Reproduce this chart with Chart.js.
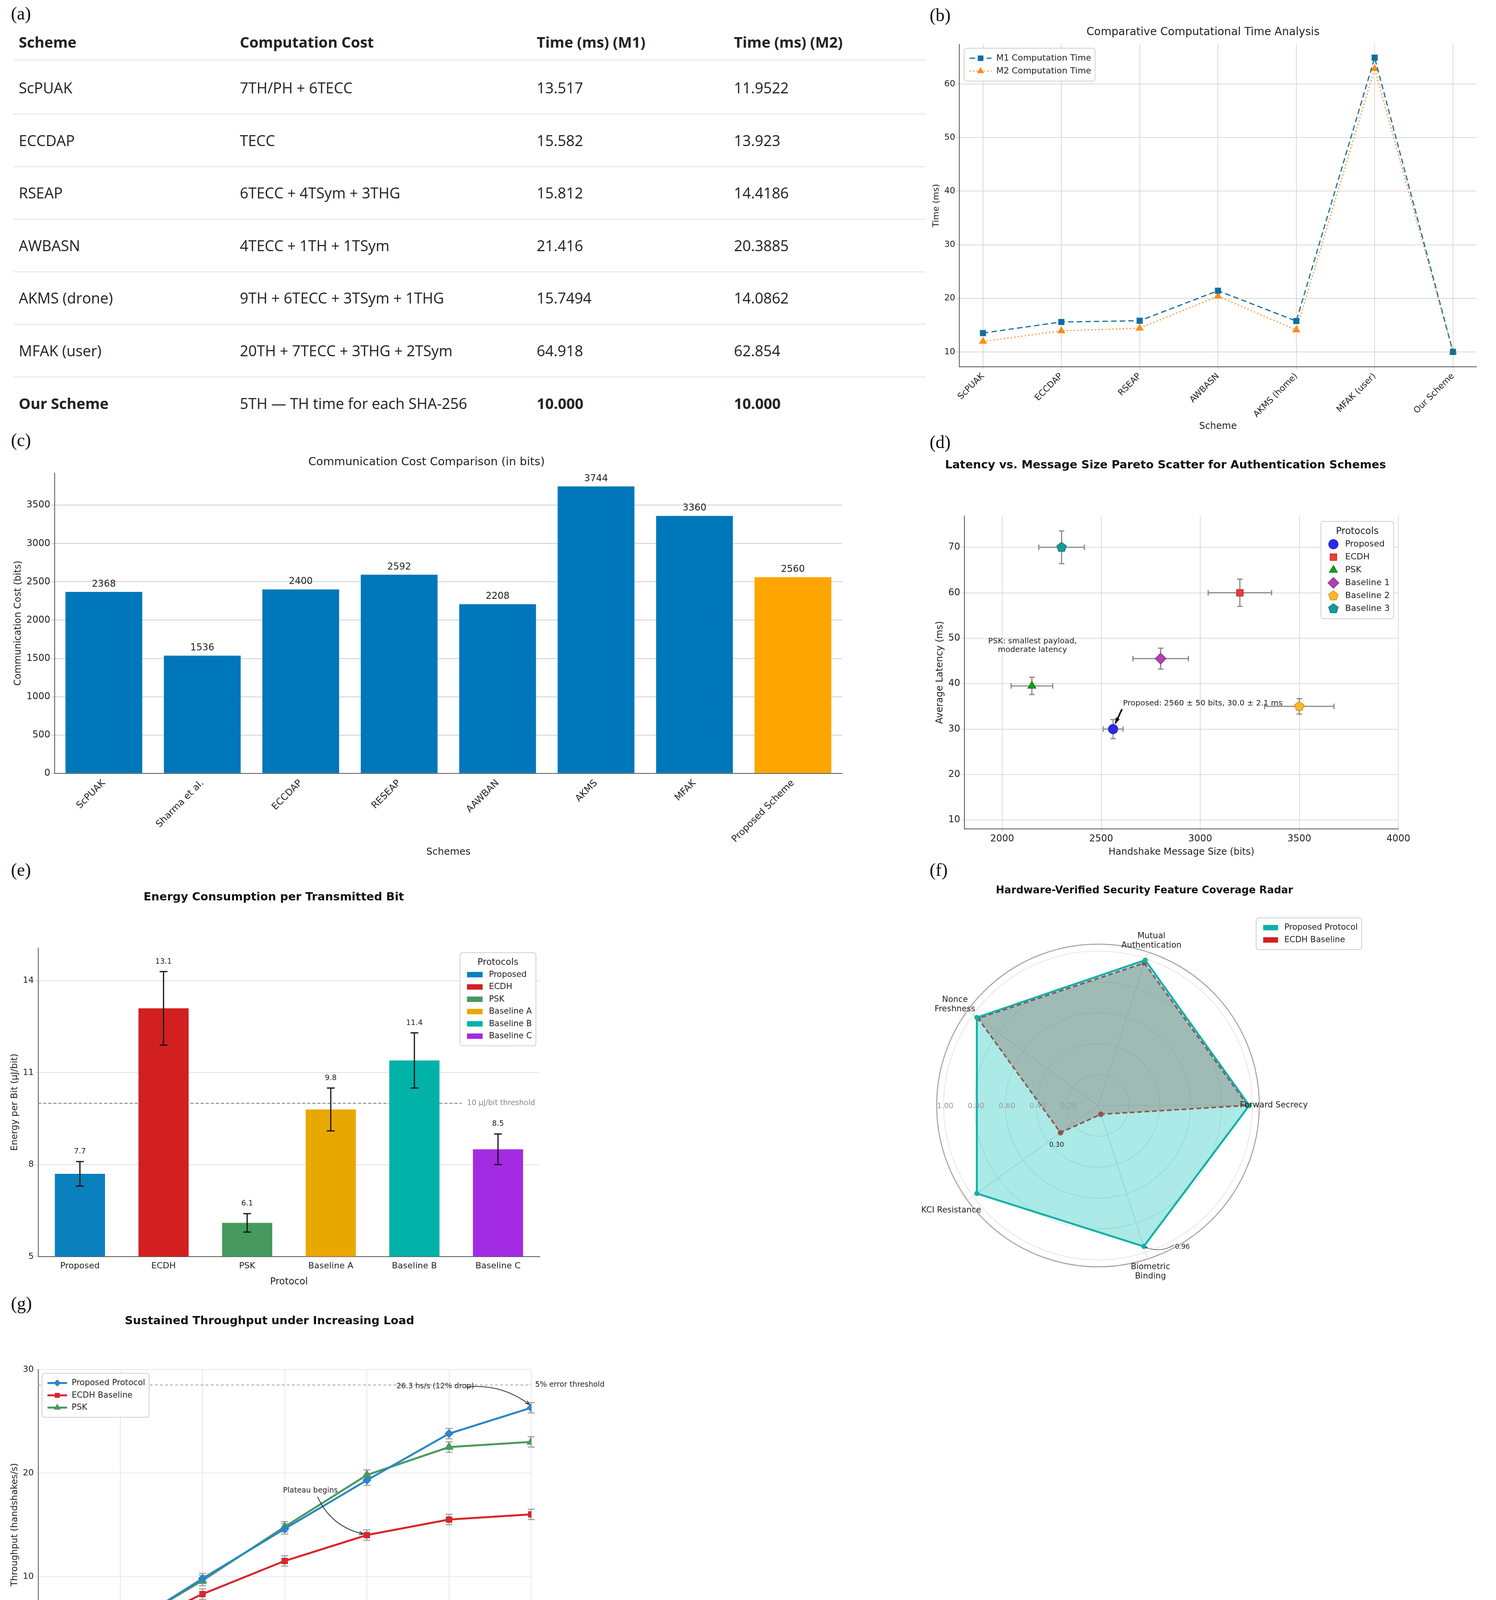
<!DOCTYPE html>
<html><head><meta charset="utf-8">
<script src="https://cdn.jsdelivr.net/npm/chart.js@4.4.0/dist/chart.umd.min.js"></script>
<style>
body{margin:0;width:3830px;height:4386px;background:#fff;position:relative;overflow:hidden;font-family:"DejaVu Sans"}
.p{position:absolute}
.lbl{position:absolute;font-family:"Liberation Serif";font-size:46px;color:#111}
.cell{position:absolute;font-family:"Open Sans";font-size:38px;color:#222;white-space:nowrap;transform:translateY(-50%)}
.hl{position:absolute;height:2px;background:#e2e2e2}
</style></head><body>
<div class="lbl" style="left:28px;top:8px">(a)</div>
<div class="lbl" style="left:2380px;top:12px">(b)</div>
<div class="lbl" style="left:28px;top:1100px">(c)</div>
<div class="lbl" style="left:2380px;top:1105px">(d)</div>
<div class="lbl" style="left:28px;top:2200px">(e)</div>
<div class="lbl" style="left:2380px;top:2200px">(f)</div>
<div class="lbl" style="left:28px;top:3310px">(g)</div>
<div id="tbl"></div>
<div class="p" style="left:2380px;top:60px;width:1440px;height:1050px"><canvas id="cb"></canvas></div>
<div class="p" style="left:28px;top:1150px;width:2142px;height:1050px"><canvas id="cc"></canvas></div>
<div class="p" style="left:2380px;top:1160px;width:1440px;height:1040px"><canvas id="cd"></canvas></div>
<div class="p" style="left:0px;top:2250px;width:1400px;height:1050px"><canvas id="ce"></canvas></div>
<div class="p" style="left:2300px;top:2230px;width:1200px;height:1100px"><canvas id="cf"></canvas></div>
<div class="p" style="left:0px;top:3335px;width:1600px;height:1051px"><canvas id="cg"></canvas></div>
<script>
// ---------- DATA ----------
const tableHeader = ['Scheme','Computation Cost','Time (ms) (M1)','Time (ms) (M2)'];
const tableSchemes = ['ScPUAK','ECCDAP','RSEAP','AWBASN','AKMS (drone)','MFAK (user)','Our Scheme'];
const tableCosts = ['7TH/PH + 6TECC','TECC','6TECC + 4TSym + 3THG','4TECC + 1TH + 1TSym','9TH + 6TECC + 3TSym + 1THG','20TH + 7TECC + 3THG + 2TSym','5TH — TH time for each SHA-256'];
const tableM1 = ['13.517','15.582','15.812','21.416','15.7494','64.918','10.000'];
const tableM2 = ['11.9522','13.923','14.4186','20.3885','14.0862','62.854','10.000'];

const schemesB = ['ScPUAK','ECCDAP','RSEAP','AWBASN','AKMS (home)','MFAK (user)','Our Scheme'];
const m1Time = [13.517,15.582,15.812,21.416,15.7494,64.918,10.0];
const m2Time = [11.9522,13.923,14.4186,20.3885,14.0862,62.854,10.0];
const ticksBY = [10,20,30,40,50,60];

const commSchemes = ['ScPUAK','Sharma et al.','ECCDAP','RESEAP','AAWBAN','AKMS','MFAK','Proposed Scheme'];
const commBits = [2368,1536,2400,2592,2208,3744,3360,2560];
const ticksCY = [0,500,1000,1500,2000,2500,3000,3500];

const protoNames = ['Proposed','ECDH','PSK','Baseline 1','Baseline 2','Baseline 3'];
const msgSize = [2560,3200,2150,2800,3500,2300];
const latency = [30,60,39.5,45.5,35,70];
const msgSizeErr = [50,160,105,140,175,115];
const latencyErr = [2.1,3,1.9,2.3,1.7,3.6];
const ticksDX = [2000,2500,3000,3500,4000];
const ticksDY = [10,20,30,40,50,60,70];

const energyLabels = ['Proposed','ECDH','PSK','Baseline A','Baseline B','Baseline C'];
const energyVals = [7.7,13.1,6.1,9.8,11.4,8.5];
const energyErr = [0.4,1.2,0.3,0.7,0.9,0.5];
const energyTicks = [5,8,11,14];
const energyThreshold = 10;

const radarAxes = ['Mutual Authentication','Forward Secrecy','Biometric Binding','KCI Resistance','Nonce Freshness'];
const radarProposed = [0.99,0.98,0.96,0.97,0.97];
const radarECDH = [0.97,0.97,0.06,0.30,0.96];
const radarTicks = [0.2,0.4,0.6,0.8,1.0];

const loads = [1,5,10,15,20,25,30];
const thrProposed = [1.0,4.8,9.8,14.6,19.3,23.8,26.3];
const thrECDH = [0.9,4.5,8.3,11.5,14.0,15.5,16.0];
const thrPSK = [1.0,4.9,9.6,14.8,19.8,22.5,23.0];
const thrErr = [0.5,0.5,0.5,0.5,0.5,0.5,0.5];
const ticksGX = [0,5,10,15,20,25,30];
const ticksGY = [0,10,20,30];
const errorThreshold = 28.5;

// ---------- TABLE ----------
(function(){
  const t=document.getElementById('tbl');
  const xs=[48,614,1374,1879], y0=107, dy=134.6;
  const add=(x,y,txt,bold)=>{const d=document.createElement('div');d.className='cell';d.style.left=x+'px';d.style.top=y+'px';d.textContent=txt;if(bold)d.style.fontWeight='700';t.appendChild(d);};
  tableHeader.forEach((h,i)=>add(xs[i],y0,h,true));
  const hl=(y)=>{const d=document.createElement('div');d.className='hl';d.style.left='34px';d.style.width='2336px';d.style.top=y+'px';t.appendChild(d);};
  hl(153);
  tableSchemes.forEach((s,r)=>{
    const y=224+r*dy; const last=r===tableSchemes.length-1;
    add(xs[0],y,s,last);add(xs[1],y,tableCosts[r],false);add(xs[2],y,tableM1[r],last);add(xs[3],y,tableM2[r],last);
    if(!last)hl(y+67);
  });
})();

// ---------- HELPERS ----------
Chart.defaults.font.family='"DejaVu Sans"';
Chart.defaults.color='#222';
Chart.defaults.animation=false;
Chart.defaults.devicePixelRatio=1;
Chart.defaults.plugins.legend.display=false;
Chart.defaults.plugins.tooltip.enabled=false;

const fixTicks=(arr)=>(s)=>{s.ticks=arr.map(v=>({value:v}));};
const plain=(v)=>String(v);

function polyImg(n,r,fill,stroke,rot){const c=document.createElement('canvas');c.width=c.height=2*r+4;const g=c.getContext('2d');g.beginPath();for(let k=0;k<n;k++){const a=rot+k*2*Math.PI/n;const px=r+2+r*Math.cos(a),py=r+2+r*Math.sin(a);k?g.lineTo(px,py):g.moveTo(px,py);}g.closePath();g.fillStyle=fill;g.fill();g.strokeStyle=stroke;g.lineWidth=1.5;g.stroke();return c;}

function drawMarker(ctx,style,r,x,y,fill,stroke){
  ctx.save();ctx.fillStyle=fill;ctx.strokeStyle=stroke;ctx.lineWidth=1.5;
  if(Chart.helpers&&Chart.helpers.drawPoint){Chart.helpers.drawPoint(ctx,{pointStyle:style,radius:r,rotation:0,borderWidth:1.5},x,y);}
  else{ctx.fillRect(x-r,y-r,2*r,2*r);}
  ctx.restore();
}
function arrowTo(ctx,x1,y1,x2,y2,bend,head,filled){
  const mx=(x1+x2)/2,my=(y1+y2)/2,dx=x2-x1,dy=y2-y1;const cx=mx-dy*bend,cy=my+dx*bend;
  ctx.beginPath();ctx.moveTo(x1,y1);ctx.quadraticCurveTo(cx,cy,x2,y2);ctx.stroke();
  const a=Math.atan2(y2-cy,x2-cx);
  ctx.beginPath();ctx.moveTo(x2,y2);ctx.lineTo(x2-head*Math.cos(a-0.35),y2-head*Math.sin(a-0.35));
  if(filled){ctx.lineTo(x2-head*Math.cos(a+0.35),y2-head*Math.sin(a+0.35));ctx.closePath();ctx.fill();}
  else{ctx.moveTo(x2,y2);ctx.lineTo(x2-head*Math.cos(a+0.35),y2-head*Math.sin(a+0.35));ctx.stroke();}
}

const errPlugin={id:'errbars',
  beforeDatasetsDraw(chart){this.draw(chart,false);},
  afterDatasetsDraw(chart){this.draw(chart,true);},
  draw(chart,front){
    const ctx=chart.ctx;
    chart.data.datasets.forEach((ds,di)=>{
      if(!ds.errY&&!ds.errX)return; if(!!ds.errFront!==front)return;
      const meta=chart.getDatasetMeta(di);const ys=chart.scales[meta.yAxisID],xs=chart.scales[meta.xAxisID];
      ctx.save();ctx.strokeStyle=ds.errColor||'#000';ctx.lineWidth=ds.errWidth||2.5;const cap=ds.capSize||9;
      const L=(a,b,c,d)=>{ctx.beginPath();ctx.moveTo(a,b);ctx.lineTo(c,d);ctx.stroke();};
      meta.data.forEach((el,i)=>{
        const d=ds.data[i];const yv=typeof d==='object'?d.y:d;const xv=typeof d==='object'?d.x:null;
        if(ds.errY){const e=ds.errY[i];const y1=ys.getPixelForValue(yv-e),y2=ys.getPixelForValue(yv+e);L(el.x,y1,el.x,y2);L(el.x-cap,y1,el.x+cap,y1);L(el.x-cap,y2,el.x+cap,y2);}
        if(ds.errX){const e=ds.errX[i];const x1=xs.getPixelForValue(xv-e),x2=xs.getPixelForValue(xv+e);L(x1,el.y,x2,el.y);L(x1,el.y-cap,x1,el.y+cap);L(x2,el.y-cap,x2,el.y+cap);}
      });
      ctx.restore();
    });
  }};

const legendPlugin={id:'lg',afterDraw(chart,args,o){
  if(!o||!o.mode)return;const ctx=chart.ctx;const fs=o.size||22;const lh=fs*1.5;
  let items;
  if(o.mode==='bars'){const ds=chart.data.datasets[0];items=chart.data.labels.map((l,i)=>({text:l,color:ds.backgroundColor[i]}));}
  else items=chart.data.datasets.map(d=>({text:d.label,color:d.borderColor,fill:d.pointBackgroundColor||d.backgroundColor,ps:d.pointStyle,dash:d.borderDash||[],r:d.pointRadius||8,bw:d.borderWidth}));
  ctx.save();ctx.font=fs+'px "DejaVu Sans"';
  let w=0;items.forEach(it=>w=Math.max(w,ctx.measureText(it.text).width));
  const sym=o.symW||50;let bw=w+sym+36;
  if(o.title){ctx.font=(fs+2)+'px "DejaVu Sans"';bw=Math.max(bw,ctx.measureText(o.title).width+30);}
  const bh=items.length*lh+(o.title?lh:0)+18;
  const ca=chart.chartArea;
  let x,y;
  if(o.abs){x=o.abs[0];y=o.abs[1];}
  else{x=o.corner==='tr'?ca.right-bw-(o.dx||14):ca.left+(o.dx||14);y=ca.top+(o.dy||14);}
  ctx.fillStyle='rgba(255,255,255,0.85)';ctx.strokeStyle='#cfcfcf';ctx.lineWidth=2;
  ctx.beginPath();ctx.roundRect(x,y,bw,bh,6);ctx.fill();ctx.stroke();
  let cy=y+9+lh/2;ctx.textBaseline='middle';
  if(o.title){ctx.fillStyle='#222';ctx.font=(fs+2)+'px "DejaVu Sans"';ctx.textAlign='center';ctx.fillText(o.title,x+bw/2,cy);cy+=lh;}
  ctx.font=fs+'px "DejaVu Sans"';ctx.textAlign='left';
  items.forEach(it=>{
    const sx=x+14;
    if(o.mode==='line'){ctx.save();ctx.strokeStyle=it.color;ctx.lineWidth=it.bw||3;ctx.setLineDash(it.dash);ctx.beginPath();ctx.moveTo(sx,cy);ctx.lineTo(sx+sym,cy);ctx.stroke();ctx.restore();drawMarker(ctx,it.ps,it.r,sx+sym/2,cy,it.fill,it.color);}
    else if(o.mode==='point'){drawMarker(ctx,it.ps,it.r,sx+sym/2,cy,it.fill,it.color);}
    else{ctx.fillStyle=it.color;ctx.fillRect(sx+4,cy-fs*0.33,sym-8,fs*0.66);}
    ctx.fillStyle='#222';ctx.fillText(it.text,sx+sym+12,cy);cy+=lh;
  });
  ctx.restore();
}};
Chart.register(errPlugin,legendPlugin);

const gridC='#d9d9d9';
const tk=(s)=>({color:'#222',font:{size:s}});
const border={display:true,color:'#555',width:2};

// ---------- (b) ----------
new Chart(document.getElementById('cb'),{type:'line',
  data:{datasets:[
    {label:'M1 Computation Time',data:m1Time.map((v,i)=>({x:i,y:v})),borderColor:'#1a6f9a',backgroundColor:'#0b6fa4',pointBackgroundColor:'#0b6fa4',borderDash:[14,8],borderWidth:3,pointStyle:'rect',pointRadius:9},
    {label:'M2 Computation Time',data:m2Time.map((v,i)=>({x:i,y:v})),borderColor:'#ff8c1a',backgroundColor:'#ff8c1a',pointBackgroundColor:'#ff8c1a',borderDash:[3,6],borderWidth:3,pointStyle:'triangle',pointRadius:9}]},
  options:{responsive:true,maintainAspectRatio:false,layout:{padding:{right:40,top:0}},
    plugins:{title:{display:true,text:'Comparative Computational Time Analysis',font:{size:28,weight:'normal'},color:'#222',padding:{top:6,bottom:14}},
      lg:{mode:'line',corner:'tl',size:22,symW:56,dx:12,dy:10}},
    scales:{
      x:{type:'linear',min:-0.3,max:6.3,grid:{color:gridC,lineWidth:2},border:border,afterBuildTicks:fixTicks(schemesB.map((s,i)=>i)),
        ticks:{...tk(22),maxRotation:45,minRotation:45,callback:v=>schemesB[v]??''},
        title:{display:true,text:'Scheme',font:{size:24},padding:{top:0}}},
      y:{min:7.2,max:67.4,grid:{color:gridC,lineWidth:2},border:border,afterBuildTicks:fixTicks(ticksBY),ticks:{...tk(22),callback:plain},
        title:{display:true,text:'Time (ms)',font:{size:22}}}}}});

// ---------- (c) ----------
new Chart(document.getElementById('cc'),{type:'bar',
  data:{labels:commSchemes,datasets:[{label:'Communication Cost',data:commBits,
    backgroundColor:commSchemes.map((s,i)=>i===commSchemes.length-1?'#ffa500':'#0077bb'),barPercentage:0.78,categoryPercentage:1}]},
  options:{responsive:true,maintainAspectRatio:false,layout:{padding:{right:14}},
    plugins:{title:{display:true,text:'Communication Cost Comparison (in bits)',font:{size:29,weight:'normal'},color:'#222',padding:{top:16,bottom:10}}},
    scales:{
      x:{grid:{display:false},border:border,ticks:{...tk(24),maxRotation:45,minRotation:45},title:{display:true,text:'Schemes',font:{size:25},padding:{top:0}}},
      y:{min:0,max:3920,border:border,grid:{color:'#cfcfcf',lineWidth:2},afterBuildTicks:fixTicks(ticksCY),ticks:{...tk(24),callback:plain},
        title:{display:true,text:'Communication Cost (bits)',font:{size:24}}}}},
  plugins:[{id:'vals',afterDatasetsDraw(chart){const ctx=chart.ctx;const m=chart.getDatasetMeta(0);ctx.save();ctx.font='24px "DejaVu Sans"';ctx.fillStyle='#222';ctx.textAlign='center';ctx.textBaseline='bottom';m.data.forEach((el,i)=>ctx.fillText(String(commBits[i]),el.x,el.y-8));ctx.restore();}}]});

// ---------- (d) ----------
const protoColors=['#2b2bf0','#f23a3a','#16a016','#b040b0','#ffb52e','#139b9b'];
const protoBorders=['#1a1aa0','#c01818','#0c6e0c','#7a2a7a','#d08a10','#0a6a6a'];
const protoStyles=['circle','rect','triangle','rectRot',polyImg(5,13,'#ffb52e','#d08a10',-Math.PI/2),polyImg(5,13,'#139b9b','#0a6a6a',-Math.PI/2)];
new Chart(document.getElementById('cd'),{type:'scatter',
  data:{datasets:protoNames.map((n,i)=>({label:n,data:[{x:msgSize[i],y:latency[i]}],errX:[msgSizeErr[i]],errY:[latencyErr[i]],errColor:'#8a8a8a',errWidth:3,capSize:7,
    pointStyle:protoStyles[i],pointRadius:i===3?14:12,backgroundColor:protoColors[i],pointBackgroundColor:protoColors[i],borderColor:protoBorders[i],borderWidth:1.5}))},
  options:{responsive:true,maintainAspectRatio:false,layout:{padding:{right:240,top:0,left:8}},
    plugins:{title:{display:true,text:'Latency vs. Message Size Pareto Scatter for Authentication Schemes',font:{size:29,weight:'bold'},color:'#111',padding:{top:14,bottom:112}},
      lg:{mode:'point',corner:'tr',title:'Protocols',size:22,symW:36,dx:12,dy:14}},
    scales:{
      x:{min:1810,max:4000,border:border,grid:{color:'#d0d0d0',lineWidth:1.5},afterBuildTicks:fixTicks(ticksDX),ticks:{...tk(24),callback:plain},title:{display:true,text:'Handshake Message Size (bits)',font:{size:24},padding:{top:2}}},
      y:{min:8,max:76.9,border:border,grid:{color:'#d0d0d0',lineWidth:1.5},afterBuildTicks:fixTicks(ticksDY),ticks:{...tk(24),callback:plain},title:{display:true,text:'Average Latency (ms)',font:{size:24}}}}},
  plugins:[{id:'annD',afterDatasetsDraw(chart){const ctx=chart.ctx,x=chart.scales.x,y=chart.scales.y;ctx.save();ctx.font='20px "DejaVu Sans"';ctx.fillStyle='#222';ctx.textAlign='center';ctx.textBaseline='middle';
    ctx.fillText('PSK: smallest payload,',x.getPixelForValue(2153),y.getPixelForValue(49.3));ctx.fillText('moderate latency',x.getPixelForValue(2153),y.getPixelForValue(47.4));
    ctx.textAlign='left';ctx.fillText('Proposed: 2560 ± 50 bits, 30.0 ± 2.1 ms',x.getPixelForValue(2610),y.getPixelForValue(35.6));
    ctx.strokeStyle='#000';ctx.fillStyle='#000';ctx.lineWidth=4;arrowTo(ctx,x.getPixelForValue(2605),y.getPixelForValue(34.4),x.getPixelForValue(2571),y.getPixelForValue(31.2),0,16,true);ctx.restore();}}]});

// ---------- (e) ----------
const energyColors=['#0a80bd','#d21f1f','#469a5e','#e9a800','#00b2a8','#a22be2'];
new Chart(document.getElementById('ce'),{type:'bar',
  data:{labels:energyLabels,datasets:[{label:'Energy',data:energyVals,errY:energyErr,errFront:true,errColor:'#111',errWidth:3,capSize:10,backgroundColor:energyColors,barPercentage:0.6,categoryPercentage:1}]},
  options:{responsive:true,maintainAspectRatio:false,layout:{padding:{right:18,left:20}},
    plugins:{title:{display:true,text:'Energy Consumption per Transmitted Bit',font:{size:29,weight:'bold'},color:'#111',padding:{top:30,bottom:112}},
      lg:{mode:'bars',corner:'tr',title:'Protocols',size:21,symW:48,dx:10,dy:12}},
    scales:{
      x:{grid:{display:false},border:border,ticks:tk(22),title:{display:true,text:'Protocol',font:{size:24},padding:{top:10}}},
      y:{min:5,max:15.07,border:border,grid:{color:'#d8d8d8',lineWidth:1.5},ticks:tk(22),afterBuildTicks:fixTicks(energyTicks),
        title:{display:true,text:'Energy per Bit (μJ/bit)',font:{size:23}}}}},
  plugins:[{id:'annE',beforeDatasetsDraw(chart){const ctx=chart.ctx,y=chart.scales.y,ca=chart.chartArea;const py=y.getPixelForValue(energyThreshold);ctx.save();ctx.strokeStyle='#8a8a8a';ctx.lineWidth=2.5;ctx.setLineDash([8,5]);ctx.beginPath();ctx.moveTo(ca.left,py);ctx.lineTo(ca.right-200,py);ctx.stroke();ctx.restore();},
    afterDatasetsDraw(chart){const ctx=chart.ctx,y=chart.scales.y,ca=chart.chartArea,m=chart.getDatasetMeta(0);ctx.save();ctx.font='19px "DejaVu Sans"';ctx.fillStyle='#888';ctx.textAlign='right';ctx.textBaseline='middle';ctx.fillText('10 μJ/bit threshold',ca.right-12,y.getPixelForValue(energyThreshold));
      ctx.fillStyle='#222';ctx.textAlign='center';ctx.textBaseline='bottom';m.data.forEach((el,i)=>ctx.fillText(energyVals[i].toFixed(1),el.x,y.getPixelForValue(energyVals[i]+energyErr[i])-16));ctx.restore();}}]});

// ---------- (f) ----------
new Chart(document.getElementById('cf'),{type:'radar',
  data:{labels:radarAxes,datasets:[
    {label:'Proposed Protocol',data:radarProposed,borderColor:'#12b0aa',backgroundColor:'rgba(0,190,180,0.33)',borderWidth:5,pointRadius:4,pointBackgroundColor:'#12b0aa',pointBorderColor:'#12b0aa'},
    {label:'ECDH Baseline',data:radarECDH,borderColor:'#d42020',backgroundColor:'rgba(214,100,96,0.45)',borderWidth:4,borderDash:[12,7],pointRadius:5,pointBackgroundColor:'#d42020',pointBorderColor:'#d42020'}]},
  options:{responsive:true,maintainAspectRatio:false,layout:{padding:{left:98,right:276,top:187,bottom:87}},
    elements:{line:{tension:0}},
    plugins:{lg:{mode:'fill',abs:[916,120],size:21,symW:46}},
    scales:{r:{min:0,max:1.045,startAngle:18,ticks:{display:false,stepSize:0.2},pointLabels:{display:false},
      grid:{circular:true,color:c=>c.tick&&c.tick.value>1.01?'#a0a0a0':'#e6e6e6',lineWidth:c=>c.tick&&c.tick.value>1.01?2.5:2},angleLines:{color:'#dddddd',lineWidth:2}}}},
  plugins:[{id:'annF',afterDraw(chart){const ctx=chart.ctx,s=chart.scales.r;ctx.save();ctx.textBaseline='middle';
    ctx.font='bold 26px "DejaVu Sans"';ctx.fillStyle='#111';ctx.textAlign='center';ctx.fillText('Hardware-Verified Security Feature Coverage Radar',630,50);
    ctx.font='19px "DejaVu Sans"';ctx.fillStyle='#999';
    radarTicks.forEach(v=>ctx.fillText(v.toFixed(2),s.xCenter-s.getDistanceFromCenterForValue(v)+4,s.yCenter+2));
    ctx.font='21px "DejaVu Sans"';ctx.fillStyle='#222';
    const lab=(i,val,lines,dx,dy,al)=>{const p=s.getPointPosition(i,s.getDistanceFromCenterForValue(val));ctx.textAlign=al||'center';lines.forEach((t,k)=>ctx.fillText(t,p.x+dx,p.y+dy+k*24));};
    lab(0,1.12,['Mutual','Authentication'],0,-12);
    lab(1,0.98,['Forward Secrecy'],-24,0,'left');
    lab(2,1.1,['Biometric','Binding'],0,0);
    lab(3,1.0,['KCI Resistance'],-56,36);
    lab(4,1.02,['Nonce','Freshness'],-40,-34);
    const k=s.getPointPosition(3,s.getDistanceFromCenterForValue(radarECDH[3]));ctx.font='17px "DejaVu Sans"';ctx.fillText('0.30',k.x-10,k.y+32);
    const b=s.getPointPosition(2,s.getDistanceFromCenterForValue(radarProposed[2]));ctx.textAlign='left';ctx.fillText('0.96',b.x+80,b.y+2);
    ctx.strokeStyle='#444';ctx.lineWidth=1.5;arrowTo(ctx,b.x+78,b.y-4,b.x+4,b.y+2,-0.25,6,false);
    ctx.restore();}}],
});

// ---------- (g) ----------
new Chart(document.getElementById('cg'),{type:'line',
  data:{datasets:[
    {label:'Proposed Protocol',data:loads.map((x,i)=>({x,y:thrProposed[i]})),errY:thrErr,errColor:'#999',errWidth:2.5,capSize:9,borderColor:'#2a86c6',backgroundColor:'#2a86c6',pointBackgroundColor:'#2a86c6',pointStyle:'rectRot',pointRadius:8,borderWidth:5},
    {label:'ECDH Baseline',data:loads.map((x,i)=>({x,y:thrECDH[i]})),errY:thrErr,errColor:'#999',errWidth:2.5,capSize:9,borderColor:'#d8262b',backgroundColor:'#d8262b',pointBackgroundColor:'#d8262b',pointStyle:'rect',pointRadius:8,borderWidth:5},
    {label:'PSK',data:loads.map((x,i)=>({x,y:thrPSK[i]})),errY:thrErr,errColor:'#999',errWidth:2.5,capSize:9,borderColor:'#4a9a5c',backgroundColor:'#4a9a5c',pointBackgroundColor:'#4a9a5c',pointStyle:'triangle',pointRadius:9,borderWidth:5}]},
  options:{responsive:true,maintainAspectRatio:false,layout:{padding:{right:240,left:20}},
    plugins:{title:{display:true,text:'Sustained Throughput under Increasing Load',font:{size:29,weight:'bold'},color:'#111',padding:{top:30,bottom:106}},
      lg:{mode:'line',corner:'tl',size:21,symW:50,dx:10,dy:10}},
    scales:{
      x:{type:'linear',min:0,max:30,border:border,grid:{color:'#e8e8e8',lineWidth:2},afterBuildTicks:fixTicks(ticksGX),ticks:{...tk(22),callback:plain},title:{display:true,text:'Offered Load (requests/s)',font:{size:24},padding:{top:12}}},
      y:{min:0,max:30,border:border,grid:{color:'#e8e8e8',lineWidth:2},afterBuildTicks:fixTicks(ticksGY),ticks:{...tk(22),callback:plain},title:{display:true,text:'Throughput (handshakes/s)',font:{size:23}}}}},
  plugins:[{id:'annG',beforeDatasetsDraw(chart){const ctx=chart.ctx,y=chart.scales.y,ca=chart.chartArea;const py=y.getPixelForValue(errorThreshold);ctx.save();ctx.strokeStyle='#b0b0b0';ctx.lineWidth=2.5;ctx.setLineDash([7,6]);ctx.beginPath();ctx.moveTo(ca.left,py);ctx.lineTo(ca.right,py);ctx.stroke();ctx.restore();},
    afterDatasetsDraw(chart){const ctx=chart.ctx,x=chart.scales.x,y=chart.scales.y,ca=chart.chartArea;ctx.save();ctx.font='19px "DejaVu Sans"';ctx.fillStyle='#222';ctx.textBaseline='middle';
      ctx.fillText('5% error threshold',ca.right+10,y.getPixelForValue(errorThreshold));
      ctx.fillText('26.3 hs/s (12% drop)',x.getPixelForValue(21.8),y.getPixelForValue(28.35));
      ctx.fillText('Plateau begins',x.getPixelForValue(14.9),y.getPixelForValue(18.3));
      ctx.strokeStyle='#333';ctx.lineWidth=2;
      arrowTo(ctx,x.getPixelForValue(26.0),y.getPixelForValue(28.3),x.getPixelForValue(29.9),y.getPixelForValue(26.6),-0.2,12,false);
      arrowTo(ctx,x.getPixelForValue(17.0),y.getPixelForValue(17.7),x.getPixelForValue(19.8),y.getPixelForValue(14.1),0.25,12,false);
      ctx.restore();}}]});
</script>
</body></html>
